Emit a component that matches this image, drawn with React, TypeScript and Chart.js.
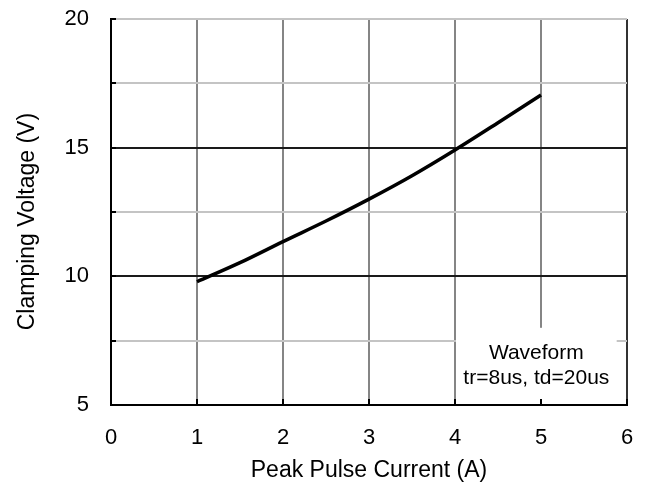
import React, { useEffect, useRef } from 'react';
import { Chart, registerables } from 'chart.js';

Chart.register(...registerables);

// ---- data ----
const currents = [1, 1.5, 2, 2.5, 3, 3.5, 4, 4.5, 5];
const voltages = [9.79, 10.53, 11.35, 12.15, 13.0, 13.91, 14.91, 15.97, 17.05];
const xRange = [0, 6];
const yRange = [5, 20];
const yLabelled = [5, 10, 15, 20];
const xTitle = 'Peak Pulse Current (A)';
const yTitle = 'Clamping Voltage (V)   ';
const noteLines = ['Waveform', 'tr=8us, td=20us'];

const FONT = '"Liberation Sans", Arial, Helvetica, sans-serif';

const framePlugin = {
  id: 'frame',
  beforeDatasetsDraw(chart: any) {
    const { ctx, scales } = chart;
    const x = scales.x;
    const y = scales.y;
    ctx.save();
    // light top frame line
    const topY = Math.round(y.getPixelForValue(yRange[1]));
    ctx.strokeStyle = '#c4c4c4';
    ctx.lineWidth = 2;
    ctx.beginPath();
    ctx.moveTo(x.left + 1, topY);
    ctx.lineTo(x.right - 1, topY);
    ctx.stroke();

    // note box (white, covers grid)
    const bl = x.getPixelForValue(4) + 1;
    const br = x.getPixelForValue(5.88);
    const bt = y.getPixelForValue(8);
    const bb = y.getPixelForValue(5) - 1;
    ctx.fillStyle = '#ffffff';
    ctx.fillRect(bl, bt, br - bl, bb - bt);

    // inward tick marks
    ctx.strokeStyle = '#000';
    ctx.lineWidth = 2;
    y.ticks.forEach((t: any) => {
      const py = Math.round(y.getPixelForValue(t.value));
      ctx.beginPath();
      ctx.moveTo(x.left, py);
      ctx.lineTo(x.left + 5, py);
      ctx.stroke();
    });
    x.ticks.forEach((t: any) => {
      const px = Math.round(x.getPixelForValue(t.value));
      ctx.beginPath();
      ctx.moveTo(px, y.bottom);
      ctx.lineTo(px, y.bottom - 6);
      ctx.stroke();
    });

    // note text
    ctx.fillStyle = '#000';
    ctx.font = `21px ${FONT}`;
    ctx.textAlign = 'center';
    ctx.textBaseline = 'middle';
    const cx = (bl + br) / 2;
    noteLines.forEach((line, i) => {
      ctx.fillText(line, cx, bt + 25 + i * 25);
    });
    ctx.restore();
  },
};

export default function App() {
  const ref = useRef<HTMLCanvasElement | null>(null);

  useEffect(() => {
    document.body.style.margin = '0';
    const canvas = ref.current;
    if (!canvas) return;
    const chart = new Chart(canvas, {
      type: 'line',
      data: {
        datasets: [
          {
            data: currents.map((c, i) => ({ x: c, y: voltages[i] })),
            borderColor: '#000',
            borderWidth: 3.5,
            pointRadius: 0,
            tension: 0.4,
            cubicInterpolationMode: 'monotone',
            fill: false,
          },
        ],
      },
      options: {
        animation: false,
        responsive: false,
        devicePixelRatio: 1,
        layout: { padding: { left: 0, right: 25, top: 19, bottom: 0 } },
        plugins: { legend: { display: false }, tooltip: { enabled: false } },
        scales: {
          x: {
            type: 'linear',
            min: xRange[0],
            max: xRange[1],
            afterFit: (s: any) => {
              s.height = 87;
              s.paddingLeft = 0;
              s.paddingRight = 0;
            },
            ticks: {
              stepSize: 1,
              padding: 20,
              color: '#000',
              font: { family: FONT, size: 22 },
            },
            grid: {
              drawTicks: false,
              lineWidth: 2,
              color: (c: any) => (c.tick && c.tick.value === 6 ? '#333' : '#858585'),
            },
            border: { color: '#000', width: 2 },
            title: {
              display: true,
              text: xTitle,
              color: '#000',
              font: { family: FONT, size: 23 },
              padding: { top: 0, bottom: 8 },
            },
          },
          y: {
            type: 'linear',
            min: yRange[0],
            max: yRange[1],
            afterFit: (s: any) => {
              s.width = 111;
              s.paddingTop = 0;
              s.paddingBottom = 0;
            },
            ticks: {
              stepSize: 2.5,
              padding: 22,
              color: '#000',
              font: { family: FONT, size: 22 },
              callback: (v: any) => (yLabelled.includes(Number(v)) ? String(v) : ''),
            },
            grid: {
              drawTicks: false,
              lineWidth: 2,
              color: (c: any) => {
                const v = c.tick ? c.tick.value : 0;
                if (v === 10 || v === 15 || v === 5) return '#1a1a1a';
                return '#c4c4c4';
              },
            },
            border: { color: '#000', width: 2 },
            title: {
              display: true,
              text: yTitle,
              color: '#000',
              font: { family: FONT, size: 23 },
              padding: { top: 14, bottom: 0 },
            },
          },
        },
      },
      plugins: [framePlugin],
    } as any);
    return () => chart.destroy();
  }, []);

  return (
    <div style={{ width: 652, height: 492, background: '#fff' }}>
      <canvas ref={ref} width={652} height={492} style={{ display: 'block' }} />
    </div>
  );
}
